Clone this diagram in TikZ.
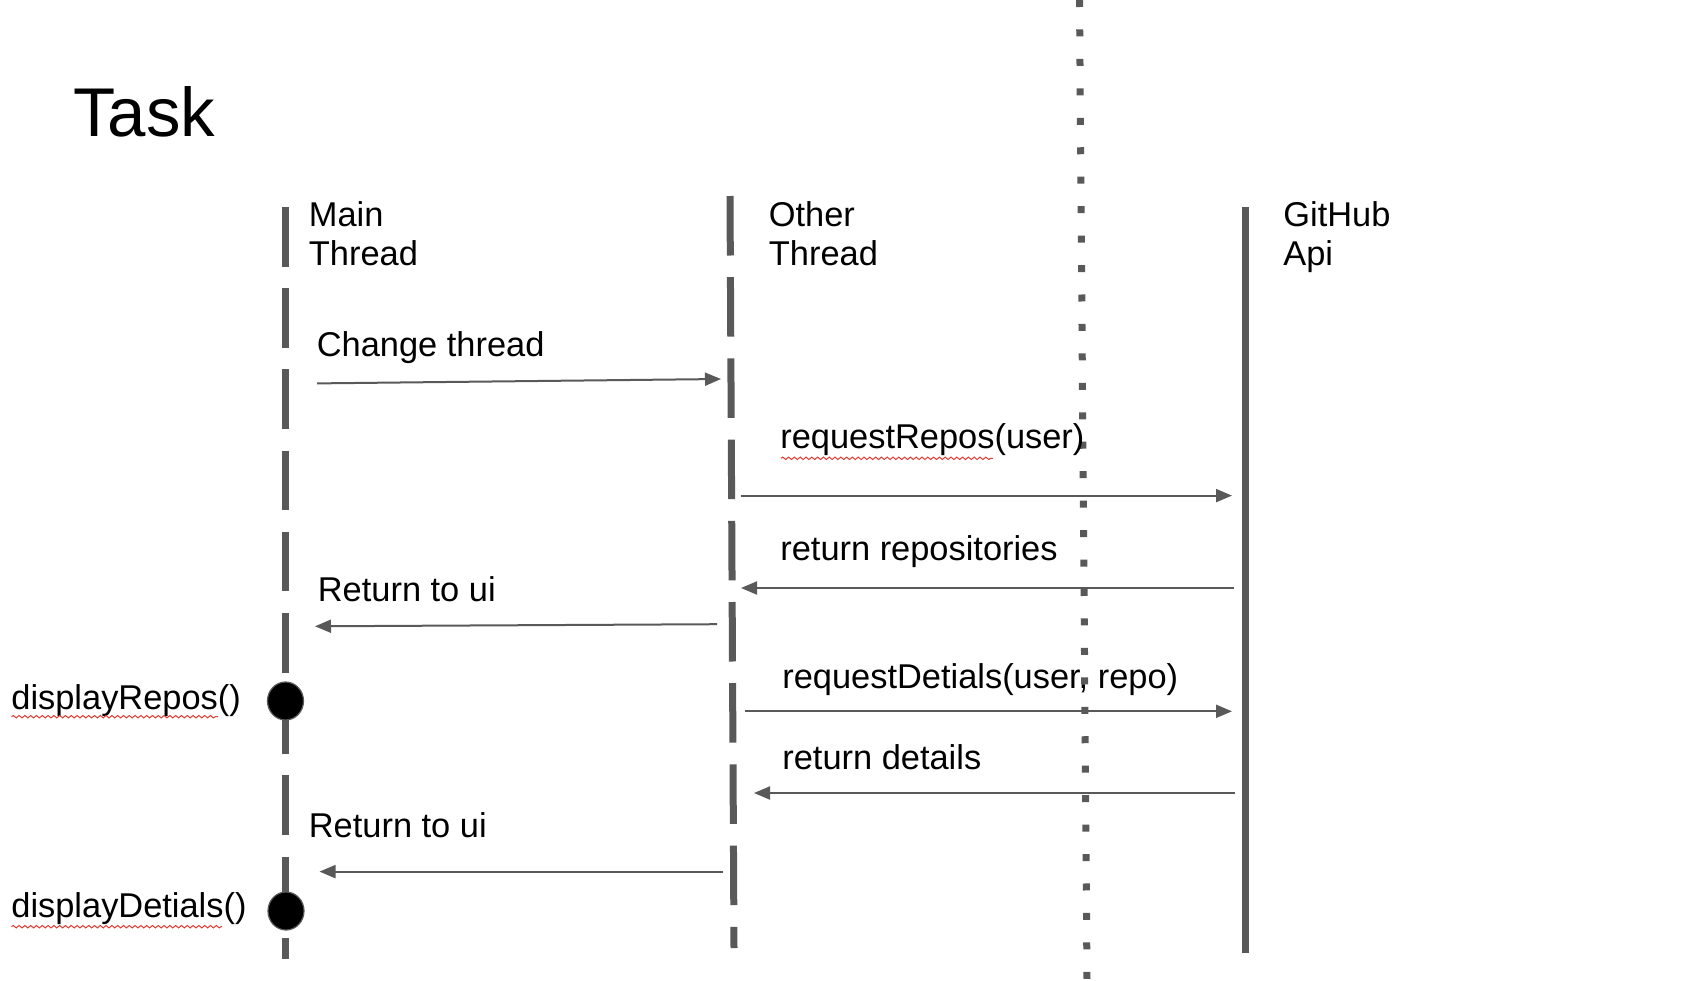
\documentclass[tikz,border=0pt]{standalone}
\usepackage{fontspec}
\setmainfont{Liberation Sans}
\usetikzlibrary{arrows.meta,shapes.geometric,decorations.pathmorphing}
\definecolor{lg}{HTML}{595959}
\definecolor{spell}{HTML}{E03C31}
\begin{document}
\begin{tikzpicture}[x=0.5pt,y=-0.5pt,
  lifeline/.style={draw=lg,line width=3.5pt},
  dashline/.style={lifeline,dash pattern=on 29.75pt off 10.85pt},
  divider/.style={draw=lg,line width=3.5pt,dash pattern=on 3.5pt off 11.225pt},
  msg/.style={draw=lg,line width=1pt,-{Triangle[length=8pt,width=6.5pt]}},
  lbl/.style={anchor=base west,inner sep=0pt,font=\fontsize{17.2pt}{19.5pt}\selectfont},
  tasktitle/.style={anchor=base west,inner sep=0pt,font=\fontsize{34.5pt}{40pt}\selectfont},
  actdot/.style={ellipse,fill=black,draw=lg,line width=0.6pt,inner sep=0pt,minimum width=18pt,minimum height=19pt},
  spellmark/.style={draw=spell,line width=0.5pt,decorate,decoration={snake,amplitude=0.6pt,segment length=2.9pt}}]
\useasboundingbox (0,0) rectangle (1708,980);

% lifeline ends
\coordinate (mainTop) at (285.5,207);
\coordinate (mainBot) at (285.5,958.5);
\coordinate (otherTop) at (730,196);
\coordinate (otherBot) at (734,948);
\coordinate (divTop) at (1079.5,0);
\coordinate (divBot) at (1087,980);
\coordinate (ghTop) at (1245,207);
\coordinate (ghBot) at (1245,953);

\draw[dashline] (mainTop) -- (mainBot);
\draw[dashline] (otherTop) -- (otherBot);
\draw[divider] (divTop) -- (divBot);
\draw[lifeline] (ghTop) -- (ghBot);

% message ends
\coordinate (m1s) at (317,383.4);
\coordinate (m1e) at (721,379);
\coordinate (m2s) at (740.7,495.6);
\coordinate (m2e) at (1232,495.6);
\coordinate (m3s) at (1234,588);
\coordinate (m3e) at (741,588);
\coordinate (m4s) at (717,624.2);
\coordinate (m4e) at (315,626.3);
\coordinate (m5s) at (745,711.3);
\coordinate (m5e) at (1232,711.3);
\coordinate (m6s) at (1234.5,793);
\coordinate (m6e) at (754,793);
\coordinate (m7s) at (722.5,871.6);
\coordinate (m7e) at (319.5,871.6);

\draw[msg] (m1s) -- (m1e);
\draw[msg] (m2s) -- (m2e);
\draw[msg] (m3s) -- (m3e);
\draw[msg] (m4s) -- (m4e);
\draw[msg] (m5s) -- (m5e);
\draw[msg] (m6s) -- (m6e);
\draw[msg] (m7s) -- (m7e);

% activation dots
\node[actdot] (act1) at (285.5,701) {};
\node[actdot] (act2) at (286,911) {};

% texts
\node[tasktitle] (title) at (73,136.5) {Task};
\node[lbl] (mainL1) at (308.5,226.5) {Main};
\node[lbl] (mainL2) at (308.5,265.5) {Thread};
\node[lbl] (otherL1) at (768.5,226) {Other};
\node[lbl] (otherL2) at (768.5,265.5) {Thread};
\node[lbl] (ghL1) at (1283,226) {GitHub};
\node[lbl] (ghL2) at (1283,265.5) {Api};
\node[lbl] (m1L) at (316.5,356) {Change thread};
\node[lbl] (m2L) at (780,448.3) {requestRepos(user)};
\node[lbl] (m3L) at (780,560) {return repositories};
\node[lbl] (m4L) at (317.5,601.7) {Return to ui};
\node[lbl] (a1L) at (11,709.3) {displayRepos()};
\node[lbl] (m5L) at (782,688.3) {requestDetials(user, repo)};
\node[lbl] (m6L) at (782,769.3) {return details};
\node[lbl] (m7L) at (308.5,837.3) {Return to ui};
\node[lbl] (a2L) at (11,917.7) {displayDetials()};

% spell-check underlines
\draw[spellmark] (11.5,716.7) -- (218,716.7);
\draw[spellmark] (11.5,926.7) -- (222,926.7);
\draw[spellmark] (781,458.3) -- (993,458.3);
\end{tikzpicture}
\end{document}
